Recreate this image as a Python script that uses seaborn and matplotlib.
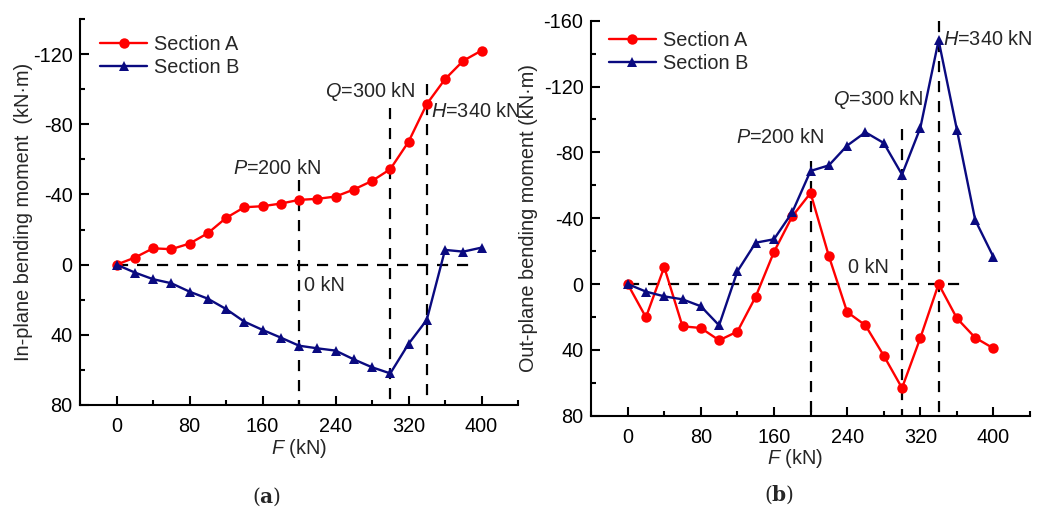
import numpy as np
import pandas as pd
import matplotlib
matplotlib.use("Agg")
import matplotlib.pyplot as plt
from matplotlib.ticker import MultipleLocator
from matplotlib.lines import Line2D
import seaborn as sns

# ---------------- data ----------------
force = [0, 20, 40, 60, 80, 100, 120, 140, 160, 180, 200, 220, 240, 260, 280,
         300, 320, 340, 360, 380, 400]

inplane_a = [0, -4, -9.3, -8.8, -12, -17.9, -26.6, -32.7, -33.3, -34.8, -36.9,
             -37.5, -38.8, -42.8, -47.7, -54.4, -70, -91.5, -105.7, -116.2, -122]
inplane_b = [0, 4.5, 8.3, 10.6, 15.4, 19.4, 25.3, 32.5, 37.2, 41.6, 46.2, 47.7,
             49.0, 54, 58.5, 62, 45.2, 31.5, -8.4, -7.4, -9.7]

outplane_a = [0, 20.2, -10.3, 25.7, 26.7, 34.2, 28.9, 7.7, -19.5, -41.1, -55.3,
              -17, 17, 25.1, 43.5, 63.2, 32.8, 0, 20.8, 32.6, 39.1]
outplane_b = [0, 4.6, 7.5, 9.3, 13.5, 25.1, -7.7, -25.1, -27.2, -43.6, -68.7,
              -72.1, -84.1, -92.2, -85.7, -66.5, -94.8, -148.1, -93.8, -38.9, -16.4]

series_names = ["Section A", "Section B"]
x_ticks = [0, 80, 160, 240, 320, 400]

# reference load levels (vertical dashed guides) and their upper ends
load_levels = [200, 300, 340]
guide_top_a = [-48, -89, -103]
guide_top_b = [-75, -94, -160]
zero_line_end = [390, 370]

# annotation texts: (label, x, y)
notes_a = [(r"$\mathit{P}$=200 kN", 128, -55), (r"$\mathit{Q}$=300 kN", 229, -98.4),
           (r"$\mathit{H}$=340 kN", 345, -87), ("0 kN", 205, 12)]
notes_b = [(r"$\mathit{P}$=200 kN", 119, -89.3), (r"$\mathit{Q}$=300 kN", 225, -112),
           (r"$\mathit{H}$=340 kN", 345, -148.5), ("0 kN", 241, -10.3)]

# ---------------- style ----------------
sns.set_style("ticks")
plt.rcParams["font.family"] = ["Liberation Sans", "DejaVu Sans"]
plt.rcParams["axes.unicode_minus"] = False
plt.rcParams["mathtext.fontset"] = "custom"
plt.rcParams["mathtext.it"] = "Liberation Sans:italic"
plt.rcParams["mathtext.rm"] = "DejaVu Serif"
plt.rcParams["mathtext.bf"] = "DejaVu Serif:bold"

FS = 14.3
RED = "#FF0000"
BLUE = "#0A0A80"
palette = {"Section A": RED, "Section B": BLUE}
markers = {"Section A": "o", "Section B": "^"}

fig = plt.figure(figsize=(10.45, 5.12), dpi=100)
ax1 = fig.add_axes([0.0766, 0.2090, 0.4191, 0.7539])
ax2 = fig.add_axes([0.5656, 0.1881, 0.4201, 0.7715])


def make_df(a, b):
    return pd.DataFrame({
        "F": force * 2,
        "M": list(a) + list(b),
        "Section": [series_names[0]] * len(force) + [series_names[1]] * len(force),
    })


def draw(ax, df, ylim, ymajor, guide_tops, zend, notes, ylabel, leg_anchor):
    sns.lineplot(data=df, x="F", y="M", hue="Section", style="Section",
                 palette=palette, markers=markers, dashes=False, ax=ax,
                 linewidth=1.7, markersize=7.5, markeredgewidth=0, legend=False,
                 zorder=3)
    for xv, yt in zip(load_levels, guide_tops):
        ax.plot([xv, xv], [yt, ylim[0]], color="black", lw=1.6,
                dashes=(5, 4), zorder=2, clip_on=False)
    ax.plot([0, zend], [0, 0], color="black", lw=1.6, dashes=(5, 4), zorder=2)
    for txt, xx, yy in notes:
        ax.text(xx, yy, txt, fontsize=FS, ha="left", va="center", zorder=4)

    ax.set_xlim(-40, 440)
    ax.set_ylim(*ylim)
    ax.set_xticks(x_ticks)
    ax.xaxis.set_minor_locator(MultipleLocator(40))
    ax.yaxis.set_major_locator(MultipleLocator(ymajor))
    ax.yaxis.set_minor_locator(MultipleLocator(20))
    ax.tick_params(which="both", direction="in", width=1.5, labelsize=FS,
                   colors="black")
    ax.tick_params(which="major", length=6.5)
    ax.tick_params(which="minor", length=3.5)
    ax.tick_params(axis="x", pad=9)
    ax.tick_params(axis="y", pad=5.5)
    for s in ["top", "right"]:
        ax.spines[s].set_visible(False)
    for s in ["left", "bottom"]:
        ax.spines[s].set_linewidth(1.5)
        ax.spines[s].set_color("black")
    ax.set_xlabel("")
    ax.set_ylabel(ylabel, fontsize=FS)

    handles = [Line2D([], [], color=palette[n], marker=markers[n], lw=1.7,
                      markersize=7.5, markeredgewidth=0) for n in series_names]
    ax.legend(handles, series_names, loc="upper left", bbox_to_anchor=leg_anchor,
              frameon=False, fontsize=FS, handlelength=2.35, handletextpad=0.35,
              labelspacing=0.2, borderaxespad=0, borderpad=0)


draw(ax1, make_df(inplane_a, inplane_b), (80, -140), 40, guide_top_a,
     zero_line_end[0], notes_a, "In-plane bending moment  (kN·m)", (0.046, 0.958))
draw(ax2, make_df(outplane_a, outplane_b), (80, -160), 40, guide_top_b,
     zero_line_end[1], notes_b, "Out-plane bending moment (kN·m)", (0.041, 0.974))

ax1.yaxis.set_label_coords(-0.107, 0.5)
ax2.yaxis.set_label_coords(-0.121, 0.5)

# x labels
fig.text(299 / 1045, 1 - 449 / 512, r"$\mathit{F}$ (kN)", fontsize=FS,
         ha="center", va="center")
fig.text(795 / 1045, 1 - 458 / 512, r"$\mathit{F}$ (kN)", fontsize=FS,
         ha="center", va="center")

# panel labels
fig.text(267 / 1045, 1 - 497 / 512, r"($\mathbf{a}$)", fontsize=14.5,
         ha="center", va="center", family="DejaVu Serif")
fig.text(779.5 / 1045, 1 - 495 / 512, r"($\mathbf{b}$)", fontsize=14.5,
         ha="center", va="center", family="DejaVu Serif")

fig.savefig("out.png", dpi=100)
